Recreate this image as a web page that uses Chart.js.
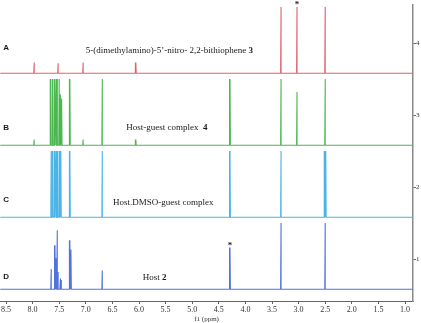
<!DOCTYPE html>
<html>
<head>
<meta charset="utf-8">
<script src="https://cdn.jsdelivr.net/npm/chart.js@4/dist/chart.umd.min.js"></script>
<style>
html,body{margin:0;padding:0;background:#fff;}
#wrap{width:421px;height:323px;}
</style>
</head>
<body>
<div id="wrap"><canvas id="c" width="421" height="323"></canvas></div>
<script>
// ---- data ----
const ppmTicks = [8.5, 8.0, 7.5, 7.0, 6.5, 6.0, 5.5, 5.0, 4.5, 4.0, 3.5, 3.0, 2.5, 2.0, 1.5, 1.0];
const yTicks = [1, 2, 3, 4];
const spectrumLetters = ['A', 'B', 'C', 'D'];
const spectrumNames = [
  ['5-(dimethylamino)-5\u2019-nitro- 2,2-bithiophene ', '3'],
  ['Host-guest complex  ', '4'],
  ['Host.DMSO-guest complex', ''],
  ['Host ', '2']
];
const baselines = [3.58, 2.58, 1.58, 0.58];

const peaksA   = [7.97, 7.52, 7.05, 6.06, 3.33, 3.03, 2.50];
const heightsA = [0.15, 0.14, 0.15, 0.15, 0.92, 0.92, 0.92];

const peaksB   = [7.97, 7.66, 7.62, 7.58, 7.555, 7.535, 7.50, 7.475, 7.455, 7.30, 7.05, 6.69, 6.06, 4.29, 3.33, 3.03, 2.50];
const heightsB = [0.08, 0.92, 0.92, 0.92, 0.92,  0.92,  0.92, 0.71,  0.65,  0.92, 0.08, 0.92, 0.08, 0.92, 0.92, 0.74, 0.92];

const peaksC   = [7.65, 7.62, 7.58, 7.555, 7.53, 7.49, 7.47, 7.30, 6.69, 4.29, 3.33, 2.51, 2.49];
const heightsC = [0.92, 0.92, 0.92, 0.92,  0.92, 0.92, 0.92, 0.92, 0.92, 0.92, 0.92, 0.92, 0.92];

const peaksD   = [7.65, 7.58, 7.56, 7.54, 7.52, 7.48, 7.46, 7.30, 7.28, 6.69, 4.29, 3.33, 2.50];
const heightsD = [0.28, 0.61, 0.43, 0.82, 0.24, 0.15, 0.13, 0.68, 0.55, 0.26, 0.58, 0.92, 0.92];

const colors = ['#e2606d', '#4cb650', '#4bb3e6', '#5272de'];

// ---- build line shapes from the peak lists ----
const X_MIN = 0.85, X_MAX = 8.61;
function spectrum(peaks, heights, base) {
  const halfWidth = 0.008;
  const idx = peaks.map((p, i) => i).sort((a, b) => peaks[a] - peaks[b]);
  const pts = [{x: X_MIN, y: base}];
  idx.forEach(i => {
    pts.push({x: peaks[i] - halfWidth, y: base});
    pts.push({x: peaks[i], y: base + heights[i]});
    pts.push({x: peaks[i] + halfWidth, y: base});
  });
  pts.push({x: X_MAX, y: base});
  return pts;
}
const allPeaks = [[peaksA, heightsA], [peaksB, heightsB], [peaksC, heightsC], [peaksD, heightsD]];

const datasets = allPeaks.map(([p, h], i) => ({
  label: spectrumLetters[i],
  data: spectrum(p, h, baselines[i]),
  borderColor: colors[i],
  borderWidth: 1.1,
  pointRadius: 0,
  showLine: true,
  tension: 0,
  fill: false
}));

// ---- annotation plugin ----
const annot = {
  id: 'annot',
  afterDatasetsDraw(chart) {
    const {ctx, scales: {x, y}, chartArea} = chart;
    ctx.save();
    ctx.textBaseline = 'middle';
    ctx.fillStyle = '#1a1a1a';
    const letterY = [0.36, 0.24, 0.24, 0.18];
    const nameX = [7.00, 6.24, 6.49, 5.93];
    const nameY = [0.31, 0.24, 0.21, 0.16];
    spectrumLetters.forEach((L, i) => {
      ctx.font = 'bold 8px "Liberation Sans", Arial, sans-serif';
      ctx.textAlign = 'left';
      ctx.fillText(L, chartArea.left + 3, y.getPixelForValue(baselines[i] + letterY[i]));
      const [txt, num] = spectrumNames[i];
      const px = x.getPixelForValue(nameX[i]);
      const py = y.getPixelForValue(baselines[i] + nameY[i]);
      ctx.font = '9px "Liberation Serif", "Times New Roman", serif';
      ctx.fillText(txt, px, py);
      const w = ctx.measureText(txt).width;
      ctx.font = 'bold 9px "Liberation Serif", "Times New Roman", serif';
      ctx.fillText(num, px + w, py);
    });
    // asterisks marking solvent / impurity peaks
    ctx.font = 'bold 9px "Liberation Serif", serif';
    ctx.textAlign = 'center';
    const starA = y.getPixelForValue(baselines[0] + heightsA[5]);
    ctx.fillText('*', x.getPixelForValue(peaksA[5]), starA - 2);
    const starD = y.getPixelForValue(baselines[3] + heightsD[10]);
    ctx.fillText('*', x.getPixelForValue(peaksD[10]), starD - 2);
    ctx.restore();
  }
};

new Chart(document.getElementById('c'), {
  type: 'scatter',
  data: {datasets},
  plugins: [annot],
  options: {
    responsive: false,
    devicePixelRatio: 1,
    animation: false,
    layout: {padding: {top: 5, left: 0, right: 0, bottom: 0}},
    plugins: {legend: {display: false}, tooltip: {enabled: false}},
    scales: {
      x: {
        type: 'linear',
        reverse: true,
        min: X_MIN,
        max: X_MAX,
        afterBuildTicks: s => { s.ticks = ppmTicks.map(v => ({value: v})); },
        afterFit: s => { s.height = 22; },
        border: {display: true, color: '#666', width: 1},
        grid: {drawOnChartArea: false, drawTicks: true, tickLength: 3, color: '#666'},
        ticks: {
          autoSkip: false, maxRotation: 0, padding: 1, color: '#333',
          font: {family: '"Liberation Serif", "Times New Roman", serif', size: 8},
          callback: v => v.toFixed(1)
        },
        title: {
          display: true, text: 'f1 (ppm)', color: '#333',
          font: {family: '"Liberation Serif", "Times New Roman", serif', size: 7},
          padding: {top: -1, bottom: 0}
        }
      },
      y: {
        type: 'linear',
        position: 'right',
        min: 0.417,
        max: 4.528,
        afterBuildTicks: s => { s.ticks = yTicks.map(v => ({value: v})); },
        afterFit: s => { s.width = 8; },
        border: {display: true, color: '#8a8a8a', width: 1.5},
        grid: {drawOnChartArea: false, drawTicks: true, tickLength: 3, color: '#666'},
        ticks: {
          padding: 0, color: '#333',
          font: {family: '"Liberation Serif", "Times New Roman", serif', size: 7}
        }
      }
    }
  }
});
</script>
</body>
</html>
